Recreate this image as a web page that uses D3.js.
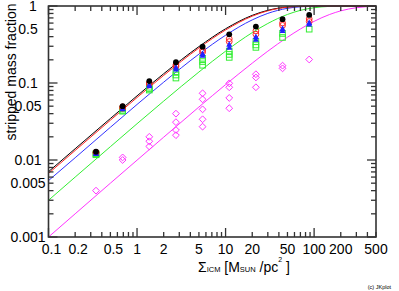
<!DOCTYPE html>
<html>
<head>
<meta charset="utf-8">
<script src="https://cdn.jsdelivr.net/npm/d3@7"></script>
<style>
body { margin: 0; background: white; }
text { font-family: "Liberation Sans", Arial, sans-serif; }
</style>
</head>
<body>
<div id="canvas"></div>
<script>
"use strict"

// model curves
let curveX = [0.1, 0.2, 0.5, 1, 2, 5, 10, 20, 30, 50, 70, 100, 150, 200, 300, 500];
let blackCurve = [0.00705, 0.0140, 0.0346, 0.0681, 0.132, 0.297, 0.506, 0.756, 0.879, 0.971, 0.993, 0.999, 1, 1, 1, 1];
let redCurve = [0.0067, 0.0133, 0.0329, 0.0648, 0.1255, 0.285, 0.488, 0.738, 0.866, 0.965, 0.991, 0.999, 1, 1, 1, 1];
let blueCurve = [0.0054, 0.0107, 0.0266, 0.0526, 0.1025, 0.237, 0.417, 0.660, 0.802, 0.933, 0.977, 0.995, 1, 1, 1, 1];
let greenCurve = [0.0030, 0.0060, 0.0149, 0.0296, 0.0582, 0.139, 0.259, 0.451, 0.593, 0.777, 0.878, 0.950, 0.989, 0.9975, 1, 1];
let magentaCurve = [0.0010, 0.0020, 0.0050, 0.00995, 0.0198, 0.0488, 0.0952, 0.181, 0.259, 0.393, 0.503, 0.632, 0.777, 0.865, 0.950, 0.993];

// simulation points
let pointX = [0.344, 0.6875, 1.375, 2.75, 5.5, 11, 22, 44, 88];
let blackPts = [[0.0128], [0.050], [0.106], [0.186], [0.296], [0.429], [0.54], [0.675], [0.765]];
let redPts = [[0.0126, 0.0124], [0.049, 0.047], [0.100, 0.097], [0.172, 0.165], [0.268, 0.252],
              [0.375, 0.345], [0.475, 0.43], [0.60, 0.56], [0.68, 0.63]];
let bluePts = [[0.0123, 0.0121], [0.047, 0.046], [0.095, 0.092], [0.160, 0.152], [0.240, 0.228],
               [0.318, 0.29], [0.40, 0.37], [0.51, 0.48], [0.61, 0.58]];
let greenPts = [[0.0121, 0.0119, 0.0117], [0.046, 0.044, 0.043], [0.088, 0.084, 0.081],
                [0.140, 0.127, 0.116], [0.209, 0.19, 0.17], [0.26, 0.235, 0.215],
                [0.345, 0.312, 0.29], [0.44, 0.39], [0.50]];
let magentaPts = [[0.004], [0.0108, 0.0100], [0.020, 0.0175, 0.015], [0.040, 0.031, 0.0245, 0.021],
                  [0.0735, 0.0614, 0.0455, 0.0338, 0.0271], [0.099, 0.088, 0.064, 0.047],
                  [0.13, 0.118, 0.088], [0.168, 0.155], [0.202]];

let xLabels = [0.1, 0.2, 0.5, 1, 2, 5, 10, 20, 50, 100, 200, 500];
let yLabels = [0.001, 0.005, 0.01, 0.05, 0.1, 0.5, 1];

let drawingWidth = 399;
let drawingHeight = 291;
let plotLeft = 48.5, plotRight = 376, plotTop = 6, plotBottom = 237;

let drawing = d3.select("#canvas")
    .append("svg")
    .attr("width", drawingWidth)
    .attr("height", drawingHeight);

drawing.append("rect")
    .attr("width", drawingWidth)
    .attr("height", drawingHeight)
    .attr("fill", "white");

let x = d3.scaleLog().domain([0.1, 500]).range([plotLeft, plotRight]);
let y = d3.scaleLog().domain([0.001, 1]).range([plotBottom, plotTop]);

drawing.append("clipPath").attr("id", "plotclip")
    .append("rect")
    .attr("x", plotLeft).attr("y", plotTop - 1)
    .attr("width", plotRight - plotLeft).attr("height", plotBottom - plotTop + 1);

// curves
let line = d3.line()
    .x(d => x(d[0]))
    .y(d => y(d[1]))
    .curve(d3.curveMonotoneX);

let curves = [
    [magentaCurve, "#ff33ff"],
    [greenCurve, "#33ee33"],
    [blueCurve, "#3333ff"],
    [blackCurve, "#000000"],
    [redCurve, "#ff2222"]
];

let lineLayer = drawing.append("g").attr("clip-path", "url(#plotclip)");
curves.forEach(c => {
    lineLayer.append("path")
        .attr("d", line(curveX.map((v, i) => [v, c[0][i]])))
        .attr("fill", "none")
        .attr("stroke", c[1])
        .attr("stroke-width", 1);
});

// flatten per-x lists into [x, y] pairs
function pairs(pts) {
    let out = [];
    pts.forEach((list, i) => list.forEach(v => out.push([pointX[i], v])));
    return out;
}

let marks = drawing.append("g");

marks.selectAll(".mag").data(pairs(magentaPts)).enter()
    .append("path")
    .attr("d", d => {
        let cx = x(d[0]), cy = y(d[1]), s = 3.4;
        return "M" + cx + "," + (cy - s) + "L" + (cx + s) + "," + cy +
               "L" + cx + "," + (cy + s) + "L" + (cx - s) + "," + cy + "Z";
    })
    .attr("fill", "none")
    .attr("stroke", "#ff33ff")
    .attr("stroke-width", 1);

marks.selectAll(".grn").data(pairs(greenPts)).enter()
    .append("rect")
    .attr("x", d => x(d[0]) - 2.8)
    .attr("y", d => y(d[1]) - 2.8)
    .attr("width", 5.6)
    .attr("height", 5.6)
    .attr("fill", "none")
    .attr("stroke", "#33ee33")
    .attr("stroke-width", 1);

marks.selectAll(".red").data(pairs(redPts)).enter()
    .append("circle")
    .attr("cx", d => x(d[0]))
    .attr("cy", d => y(d[1]))
    .attr("r", 2.9)
    .attr("fill", "none")
    .attr("stroke", "#ff2222")
    .attr("stroke-width", 1);

marks.selectAll(".blu").data(pairs(bluePts)).enter()
    .append("path")
    .attr("d", d => {
        let cx = x(d[0]), cy = y(d[1]);
        return "M" + cx + "," + (cy - 3.2) + "L" + (cx + 3) + "," + (cy + 2.4) +
               "L" + (cx - 3) + "," + (cy + 2.4) + "Z";
    })
    .attr("fill", "#2222ff");

marks.selectAll(".blk").data(pairs(blackPts)).enter()
    .append("circle")
    .attr("cx", d => x(d[0]))
    .attr("cy", d => y(d[1]))
    .attr("r", 2.9)
    .attr("fill", "black");

// frame and ticks on all four sides
let axisColor = "#333";

function minorList(lo, hi) {
    let out = [];
    for (let e = Math.floor(Math.log10(lo)); e <= Math.ceil(Math.log10(hi)); e++) {
        for (let m = 1; m <= 9; m++) {
            let v = m * Math.pow(10, e);
            if (v >= lo * 0.999 && v <= hi * 1.001) out.push({v: v, major: m === 1});
        }
    }
    return out;
}

let ticks = drawing.append("g")
    .attr("stroke", axisColor)
    .attr("stroke-width", 1.3);

minorList(0.1, 500).forEach(t => {
    let len = t.major ? 9 : 5;
    let px = x(t.v);
    ticks.append("line").attr("x1", px).attr("x2", px).attr("y1", plotBottom).attr("y2", plotBottom - len);
    ticks.append("line").attr("x1", px).attr("x2", px).attr("y1", plotTop).attr("y2", plotTop + len);
});

minorList(0.001, 1).forEach(t => {
    let len = t.major ? 9 : 5;
    let py = y(t.v);
    ticks.append("line").attr("x1", plotLeft).attr("x2", plotLeft + len).attr("y1", py).attr("y2", py);
    ticks.append("line").attr("x1", plotRight).attr("x2", plotRight - len).attr("y1", py).attr("y2", py);
});

drawing.append("rect")
    .attr("x", plotLeft)
    .attr("y", plotTop)
    .attr("width", plotRight - plotLeft)
    .attr("height", plotBottom - plotTop)
    .attr("fill", "none")
    .attr("stroke", axisColor)
    .attr("stroke-width", 1.6);

// tick labels
drawing.selectAll(".xl").data(xLabels).enter()
    .append("text")
    .attr("x", d => x(d) + (d < 1 ? 3 : 0))
    .attr("y", 254)
    .attr("text-anchor", "middle")
    .attr("font-size", 14)
    .attr("fill", "black")
    .text(d => d);

drawing.selectAll(".yl").data(yLabels).enter()
    .append("text")
    .attr("x", d => d === 1 ? 33 : 28)
    .attr("y", d => y(d) + 5)
    .attr("text-anchor", "middle")
    .attr("font-size", 14)
    .attr("fill", "black")
    .text(d => d);

// axis titles
drawing.append("text")
    .attr("transform", "translate(16," + 72 + ") rotate(-90)")
    .attr("text-anchor", "middle")
    .attr("font-size", 14)
    .attr("fill", "black")
    .text("stripped mass fraction");

let xt = drawing.append("text")
    .attr("x", 198)
    .attr("y", 272)
    .attr("font-size", 14)
    .attr("fill", "black");
xt.append("tspan").text("Σ");
xt.append("tspan").attr("font-size", 7.5).text("ICM");
xt.append("tspan").text(" [M");
xt.append("tspan").attr("font-size", 7.5).text("SUN");
xt.append("tspan").text(" /pc");
xt.append("tspan").attr("font-size", 7).attr("dy", -10).text("2");
xt.append("tspan").attr("dy", 10).text(" ]");

drawing.append("text")
    .attr("x", 391)
    .attr("y", 289)
    .attr("text-anchor", "end")
    .attr("font-size", 5.5)
    .attr("fill", "black")
    .text("(c) JKplot");
</script>
</body>
</html>
